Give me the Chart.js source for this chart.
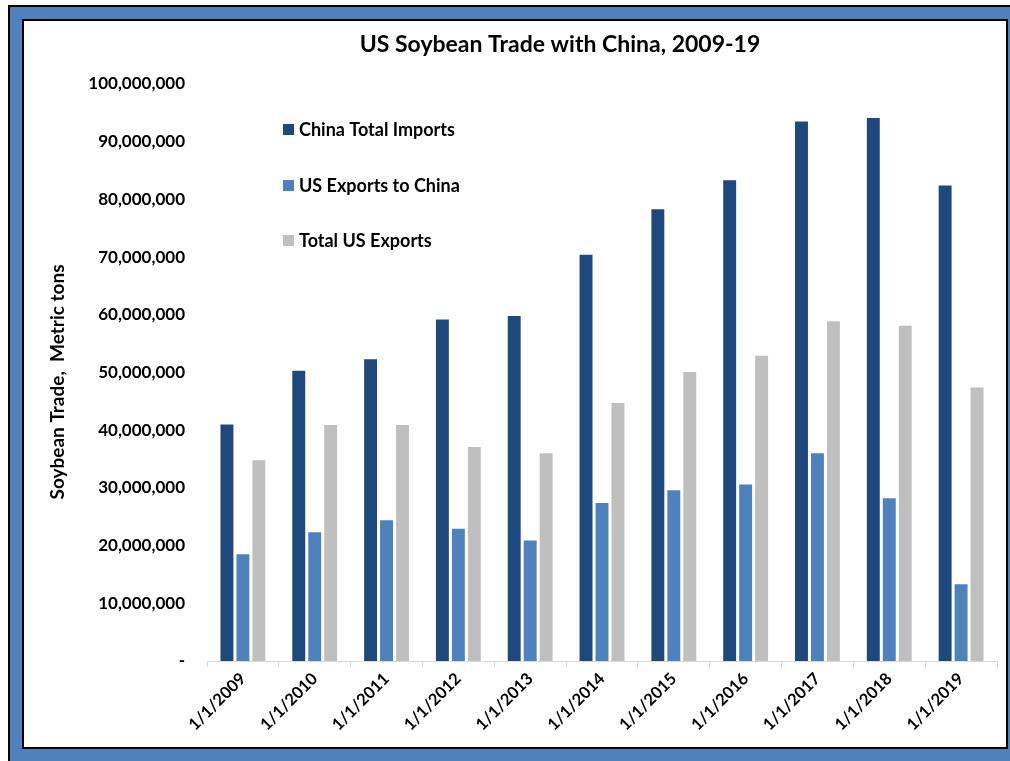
<!DOCTYPE html>
<html>
<head>
<meta charset="utf-8">
<script src="https://cdn.jsdelivr.net/npm/chart.js@4.4.1/dist/chart.umd.min.js"></script>
<style>
  html, body { margin:0; padding:0; background:#fff; }
  body { width:1010px; height:761px; position:relative; overflow:hidden; }
  #frame { position:absolute; left:8px; top:5px; width:1100px; height:900px; background:#4f81bd; border-left:2px solid #000; border-top:2px solid #000; }
  #inner { position:absolute; left:22px; top:19px; width:982px; height:726px; background:#fff; border:2px solid #000; }
  #c { display:block; }
</style>
</head>
<body>
<div id="frame"></div>
<div id="inner"><canvas id="c" width="982" height="726"></canvas></div>
<script>
const categories = ["1/1/2009","1/1/2010","1/1/2011","1/1/2012","1/1/2013","1/1/2014","1/1/2015","1/1/2016","1/1/2017","1/1/2018","1/1/2019"];
const chinaTotalImports = [41000000, 50300000, 52300000, 59200000, 59800000, 70400000, 78300000, 83300000, 93500000, 94100000, 82400000];
const usExportsToChina = [18500000, 22300000, 24400000, 22900000, 20900000, 27400000, 29600000, 30600000, 36000000, 28200000, 13300000];
const totalUsExports = [34800000, 40900000, 40900000, 37100000, 36000000, 44700000, 50100000, 52900000, 58900000, 58100000, 47400000];
const seriesNames = ["China Total Imports", "US Exports to China", "Total US Exports"];
const seriesColors = ["#1f497d", "#4f81bd", "#bfbfbf"];
const yTicks = { min: 0, max: 100000000, step: 10000000 };
const titleText = "US Soybean Trade with China, 2009-19";
const yTitle = "Soybean Trade,  Metric tons";

const FONT = "Lato, 'Open Sans', sans-serif";

const textPlugin = {
  id: 'customText',
  afterDraw(chart) {
    const ctx = chart.ctx;
    ctx.save();
    // title
    ctx.fillStyle = '#000';
    ctx.textAlign = 'center';
    ctx.textBaseline = 'middle';
    ctx.font = "bold 23px " + FONT;
    ctx.fillText(titleText, 536, 24);
    // y axis title
    ctx.save();
    ctx.translate(34, 361);
    ctx.rotate(-Math.PI / 2);
    ctx.font = "bold 19px " + FONT;
    ctx.fillText(yTitle, 0, 0);
    ctx.restore();
    // legend
    ctx.font = "bold 18px " + FONT;
    ctx.textAlign = 'left';
    const ys = [108, 164, 219];
    chart.data.datasets.forEach((ds, i) => {
      ctx.fillStyle = ds.backgroundColor;
      ctx.fillRect(259, ys[i] - 5, 11, 11);
      ctx.fillStyle = '#000';
      ctx.fillText(ds.label, 275, ys[i] + 1);
    });
    ctx.restore();
  }
};

const datasets = [chinaTotalImports, usExportsToChina, totalUsExports].map((arr, i) => ({
  label: seriesNames[i],
  data: arr,
  backgroundColor: seriesColors[i],
  borderWidth: 0,
  categoryPercentage: 0.667,
  barPercentage: 0.81
}));

new Chart(document.getElementById('c'), {
  type: 'bar',
  data: { labels: categories, datasets },
  options: {
    responsive: false,
    animation: false,
    layout: { padding: { left: 22, right: 9, top: 63, bottom: 0 } },
    plugins: {
      legend: { display: false },
      tooltip: { enabled: false },
      title: { display: false }
    },
    scales: {
      x: {
        grid: { display: true, drawOnChartArea: false, drawTicks: true, tickLength: 6, color: '#d9d9d9', offset: true },
        border: { display: true, color: '#d9d9d9', width: 1 },
        ticks: { color: '#000', font: { family: FONT, size: 16.5, weight: 'bold' }, minRotation: 45, maxRotation: 45, padding: 2 },
        afterFit(scale) { scale.height = 86; }
      },
      y: {
        min: yTicks.min, max: yTicks.max,
        grid: { display: false, drawTicks: false },
        border: { display: false },
        ticks: {
          stepSize: yTicks.step,
          color: '#000',
          padding: 22,
          font: { family: FONT, size: 17, weight: 'bold' },
          callback: v => v === 0 ? '-' : v.toLocaleString('en-US')
        },
        title: { display: false },
        afterFit(scale) { scale.width = 161; }
      }
    }
  },
  plugins: [textPlugin]
});
</script>
</body>
</html>
